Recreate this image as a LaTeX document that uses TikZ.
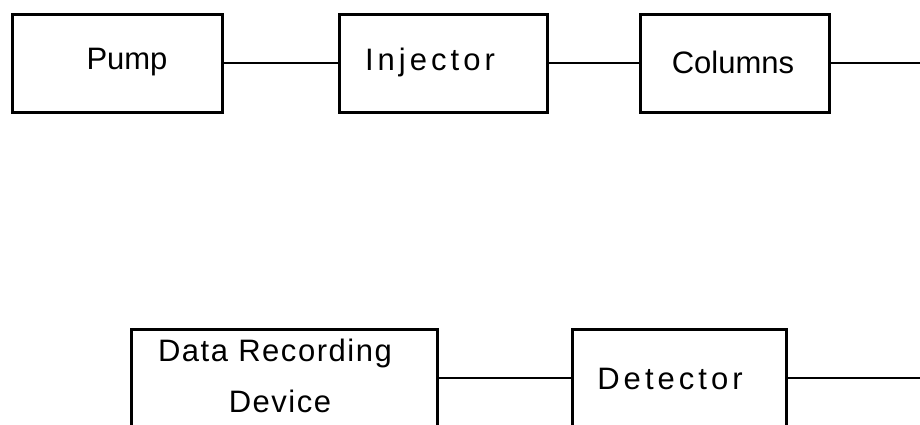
\documentclass[tikz,border=0pt]{standalone}
\usepackage{fontspec}
\setmainfont{Liberation Sans}
\newfontfamily\spacedA[LetterSpace=13]{Liberation Sans}
\newfontfamily\spacedB[LetterSpace=5]{Liberation Sans}
\begin{document}
\begin{tikzpicture}[x=1pt,y=-1pt,
  blk/.style={draw, line width=3pt, minimum width=#1, minimum height=98pt, inner sep=0pt},
  lbl/.style={font=\fontsize{31}{36}\selectfont, inner sep=0pt, anchor=center},
  wire/.style={line width=2.8pt}]
\useasboundingbox (0,0) rectangle (920,424);
\clip (0,0) rectangle (920,424);
% boxes
\node[blk=210pt] (pump) at (117,63) {};
\node[blk=208pt] (inj) at (443,63) {};
\node[blk=189pt] (col) at (734.5,63) {};
\node[blk=306pt] (rec) at (284,378) {};
\node[blk=214pt] (det) at (679,378) {};
% labels
\node[lbl] (pumpT) at (127,62) {Pump};
\node[lbl] (injT) at (430,62) {\spacedA Injector};
\node[lbl] (colT) at (733,62) {Columns};
\node[lbl] (recT1) at (275,353) {\spacedB Data Recording};
\node[lbl] (recT2) at (280,401) {\spacedB Device};
\node[lbl] (detT) at (670,379) {\spacedA Detector};
% connectors
\coordinate (colEnd) at (920,63);
\coordinate (detEnd) at (920,378);
\draw[wire] (pump.east) -- (inj.west);
\draw[wire] (inj.east) -- (col.west);
\draw[wire] (col.east) -- (colEnd);
\draw[wire] (rec.east) -- (det.west);
\draw[wire] (det.east) -- (detEnd);
\end{tikzpicture}
\end{document}
